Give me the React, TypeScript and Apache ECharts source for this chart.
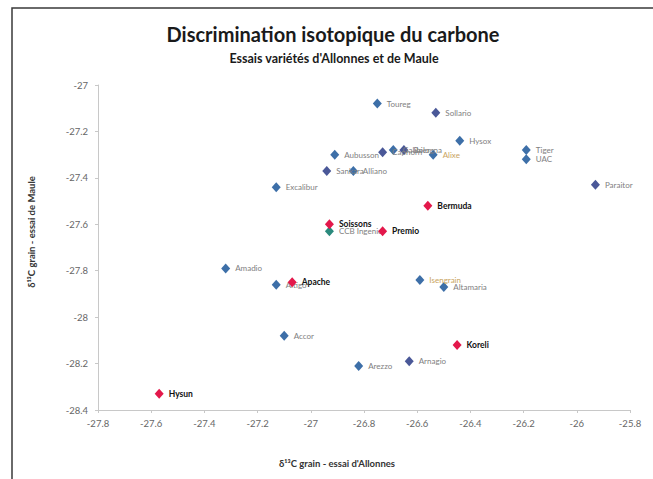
import React, { useEffect, useRef } from "react";
import * as echarts from "echarts";

// Variety names, δ13C Allonnes (x), δ13C Maule (y), group
const varieties = [
  "Toureg", "Sollario", "Hysox", "Tiger", "UAC", "Paraitor", "Aubusson", "Caphorn",
  "Galibier", "Bologna", "Alixe", "Sankara", "Alliano", "Excalibur", "Amadio", "Altigo",
  "Accor", "Isengrain", "Altamaria", "Arezzo", "Arnagio", "CCB Ingenio",
  "Bermuda", "Soissons", "Premio", "Apache", "Koreli", "Hysun",
];
const allonnes = [
  -26.75, -26.53, -26.44, -26.19, -26.19, -25.93, -26.91, -26.73,
  -26.69, -26.65, -26.54, -26.94, -26.84, -27.13, -27.32, -27.13,
  -27.10, -26.59, -26.50, -26.82, -26.63, -26.93,
  -26.56, -26.93, -26.73, -27.07, -26.45, -27.57,
];
const maule = [
  -27.08, -27.12, -27.24, -27.28, -27.32, -27.43, -27.30, -27.29,
  -27.28, -27.28, -27.30, -27.37, -27.37, -27.44, -27.79, -27.86,
  -28.08, -27.84, -27.87, -28.21, -28.19, -27.63,
  -27.52, -27.60, -27.63, -27.85, -28.12, -28.33,
];
const groups = [
  "std", "violet", "std", "std", "std", "violet", "std", "violet",
  "std", "violet", "tan", "violet", "std", "std", "std", "std",
  "std", "tan", "std", "std", "violet", "ref",
  "red", "red", "red", "red", "red", "red",
];

const xMin = -27.8, xMax = -25.8, yMin = -28.4, yMax = -27, tickStep = 0.2;
const title = "Discrimination isotopique du carbone";
const subtitle = "Essais variétés d'Allonnes et de Maule";
const xName = "δ¹³C grain - essai d'Allonnes";
const yName = "δ¹³C grain - essai de Maule";

const FONT = "Lato, 'Open Sans', sans-serif";

const groupStyle: Record<string, { color: string; label: string; bold: boolean }> = {
  std: { color: "#3d6fa8", label: "#808080", bold: false },
  violet: { color: "#4a5898", label: "#808080", bold: false },
  tan: { color: "#3d6fa8", label: "#c9a45e", bold: false },
  ref: { color: "#2b8a7d", label: "#808080", bold: false },
  red: { color: "#e3184b", label: "#111111", bold: true },
};

export default function App() {
  const ref = useRef<HTMLDivElement>(null);
  useEffect(() => {
    if (!ref.current) return;
    const chart = echarts.init(ref.current, undefined, { renderer: "svg" });
    const groupNames = Object.keys(groupStyle);
    const series = groupNames.map((g) => {
      const st = groupStyle[g];
      const data = varieties
        .map((n, i) => ({ name: n, value: [allonnes[i], maule[i]], g: groups[i] }))
        .filter((d) => d.g === g)
        .map((d) => ({ name: d.name, value: d.value }));
      return {
        type: "scatter",
        name: g,
        data,
        symbol: "diamond",
        symbolSize: [9, 10],
        itemStyle: { color: st.color, opacity: 1 },
        z: g === "red" ? 5 : 3,
        label: {
          show: true,
          position: "right",
          distance: 5,
          formatter: "{b}",
          color: st.label,
          fontSize: st.bold ? 8.5 : 8,
          fontWeight: st.bold ? "bold" : "normal",
          fontFamily: FONT,
        },
      };
    });
    const fmt = (v: number) => String(Math.round(v * 10) / 10);
    chart.setOption({
      animation: false,
      backgroundColor: "#ffffff",
      grid: { left: 98, right: 23, top: 85, bottom: 69, containLabel: false },
      xAxis: {
        type: "value",
        min: xMin,
        max: xMax,
        interval: tickStep,
        axisLine: { show: true, onZero: false, lineStyle: { color: "#c8c8c8", width: 1 } },
        axisTick: { show: true, length: 3, lineStyle: { color: "#c8c8c8" } },
        splitLine: { show: false },
        axisLabel: { formatter: fmt, color: "#666666", fontSize: 9.5, fontFamily: FONT, margin: 8 },
      },
      yAxis: {
        type: "value",
        min: yMin,
        max: yMax,
        interval: tickStep,
        axisLine: { show: true, onZero: false, lineStyle: { color: "#c8c8c8", width: 1 } },
        axisTick: { show: true, length: 3, lineStyle: { color: "#c8c8c8" } },
        splitLine: { show: false },
        axisLabel: { formatter: fmt, color: "#666666", fontSize: 9.5, fontFamily: FONT, margin: 10 },
      },
      series,
      graphic: [
        {
          type: "rect",
          silent: true,
          z: -10,
          shape: { x: 12, y: 8, width: 700, height: 520 },
          style: { fill: "none", stroke: "#3a3a3a", lineWidth: 1.5 },
        },
        {
          type: "text",
          x: 333,
          y: 34,
          style: { text: title, align: "center", verticalAlign: "middle", fontFamily: FONT, fontSize: 20, fontWeight: "bold", fill: "#1a1a1a" },
        },
        {
          type: "text",
          x: 334,
          y: 58,
          style: { text: subtitle, align: "center", verticalAlign: "middle", fontFamily: FONT, fontSize: 12.5, fontWeight: "bold", fill: "#1a1a1a" },
        },
        {
          type: "text",
          x: 337,
          y: 463,
          style: { text: xName, align: "center", verticalAlign: "middle", fontFamily: FONT, fontSize: 9.5, fontWeight: "bold", fill: "#333333" },
        },
        {
          type: "text",
          x: 31,
          y: 232,
          rotation: Math.PI / 2,
          style: { text: yName, align: "center", verticalAlign: "middle", fontFamily: FONT, fontSize: 9.5, fontWeight: "bold", fill: "#333333" },
        },
      ],
    });
    return () => chart.dispose();
  }, []);
  return (
    <div
      ref={ref}
      style={{ position: "fixed", left: 0, top: 0, width: 653, height: 479, background: "#fff" }}
    />
  );
}
